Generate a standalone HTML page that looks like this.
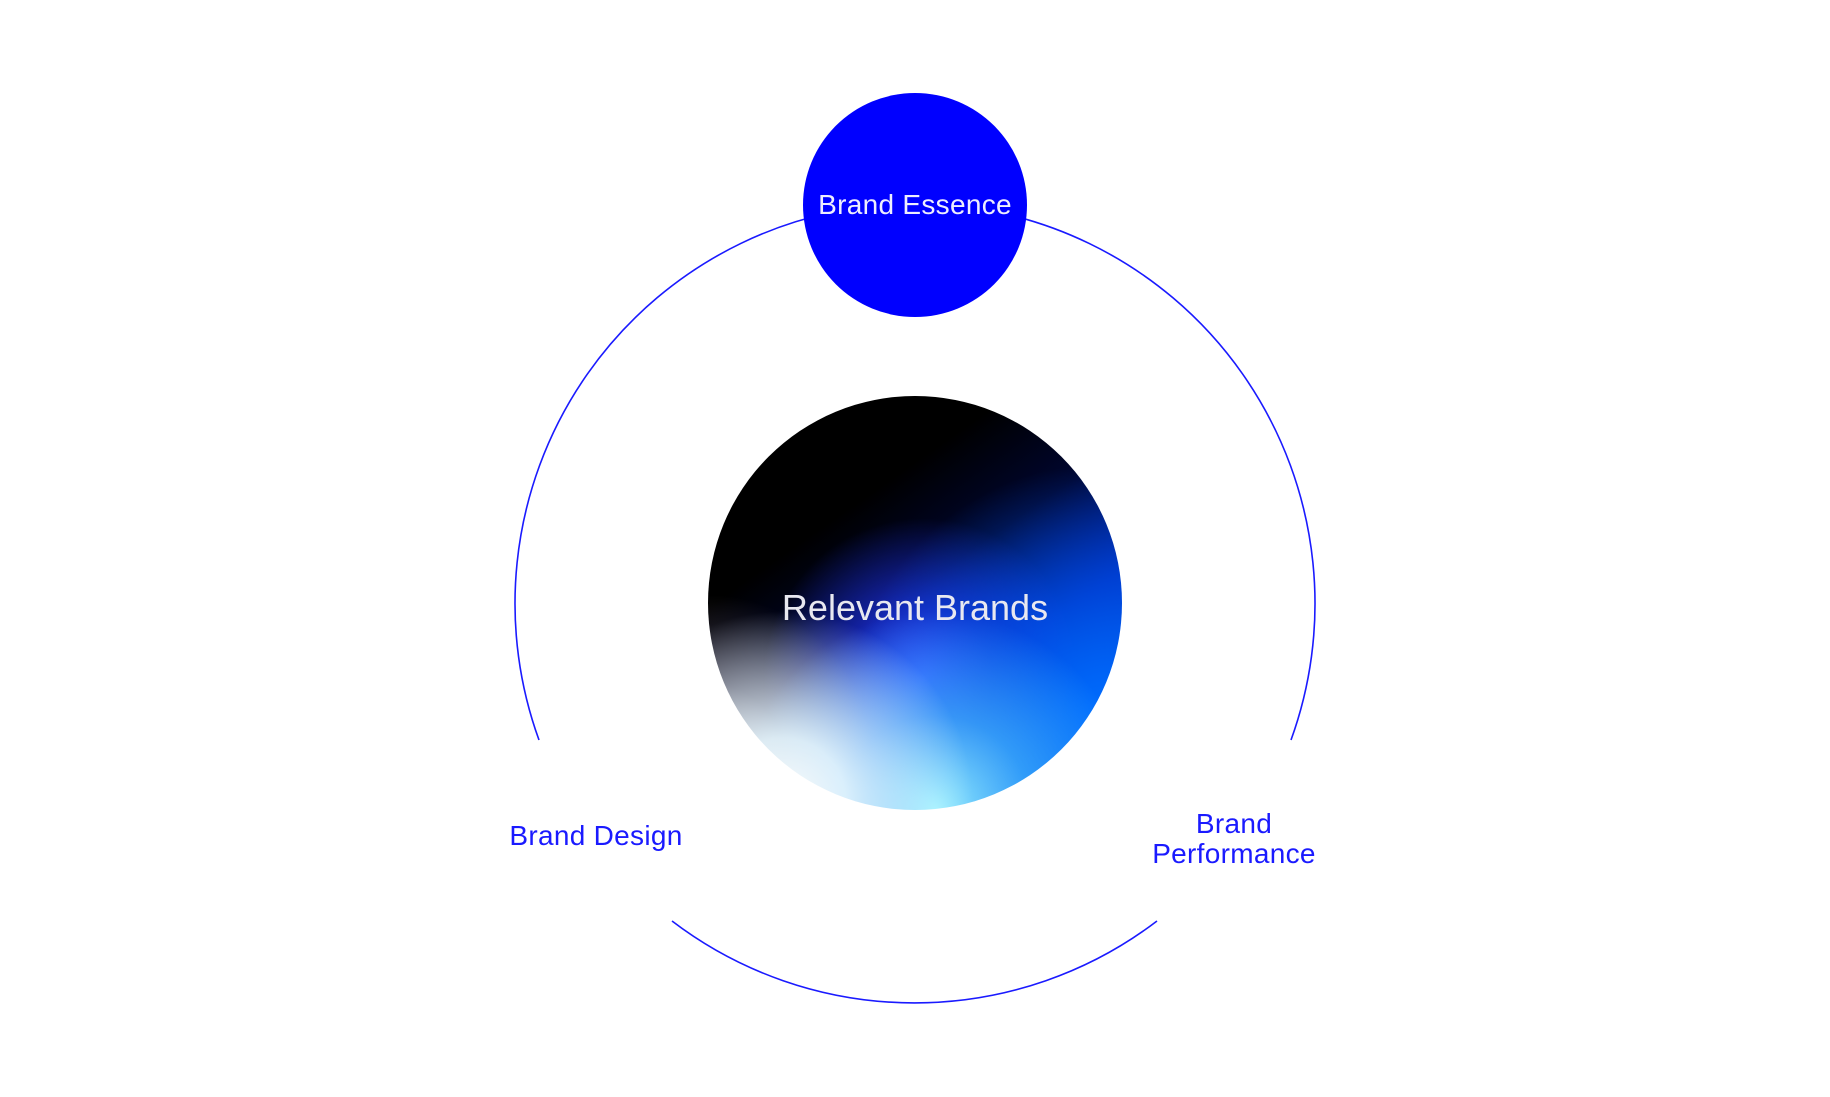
<!DOCTYPE html>
<html><head><meta charset="utf-8"><style>
html,body{margin:0;padding:0;background:#fff;}
body{width:1830px;height:1097px;position:relative;overflow:hidden;font-family:"Liberation Sans",sans-serif;}
.t{position:absolute;white-space:nowrap;transform:translate(-50%,-50%);text-align:center;}
.center{position:absolute;left:708px;top:396px;width:414px;height:414px;border-radius:50%;overflow:hidden;
background:
radial-gradient(circle at 18% 98%, rgba(250,252,252,1) 0%, rgba(235,250,255,0.9) 12%, rgba(200,240,255,0) 36%),
radial-gradient(circle at 55% 100%, rgba(150,240,255,1) 0%, rgba(80,200,255,0.6) 20%, rgba(60,160,255,0) 42%),
radial-gradient(circle at 0% 88%, rgba(200,190,190,0.9) 0%, rgba(120,110,120,0.5) 14%, rgba(0,0,0,0) 30%),
radial-gradient(circle at 95% 78%, rgba(0,110,255,1) 0%, rgba(0,90,240,0.6) 25%, rgba(0,60,220,0) 50%),
radial-gradient(circle at 52% 68%, rgba(60,70,255,1) 0%, rgba(30,50,230,0.7) 20%, rgba(20,30,200,0) 45%),
linear-gradient(145deg, #000 30%, #000630 48%, #0021b0 66%, #0050e8 86%);}
</style></head><body>
<svg width="1830" height="1097" style="position:absolute;left:0;top:0">
<path d="M539 740 A400 400 0 1 1 1291 740" fill="none" stroke="#1a1aff" stroke-width="1.6"/>
<path d="M672 921 A400 400 0 0 0 1157 921" fill="none" stroke="#1a1aff" stroke-width="1.6"/>
<circle cx="915" cy="205" r="112" fill="#0000ff"/>
</svg>
<div class="center"></div>
<div class="t" style="left:915px;top:205px;color:#eef;font-size:28px;letter-spacing:0.3px;">Brand Essence</div>
<div class="t" style="left:915px;top:608px;color:#e8e8f0;font-size:36px;">Relevant Brands</div>
<div class="t" style="left:596px;top:836px;color:#1a1aff;font-size:28px;letter-spacing:0.3px;">Brand Design</div>
<div class="t" style="left:1234px;top:839px;color:#1a1aff;font-size:28px;line-height:30px;letter-spacing:0.3px;">Brand<br>Performance</div>
</body></html>
